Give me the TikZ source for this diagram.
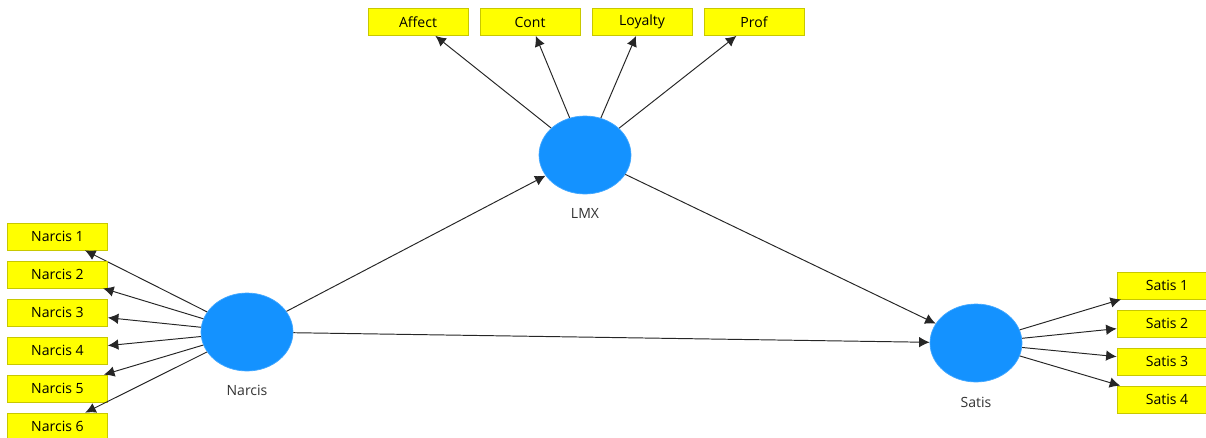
\documentclass[tikz,border=0pt]{standalone}
\usepackage{fontspec}
\setmainfont{Open Sans}
\usetikzlibrary{arrows.meta,shapes.geometric}
\definecolor{lvblue}{RGB}{20,146,255}
\definecolor{mvyellow}{RGB}{255,255,0}
\definecolor{mvborder}{RGB}{200,200,0}
\tikzset{
  latent/.style={ellipse,fill=lvblue,draw=lvblue!80!white,minimum width=1.84cm,minimum height=1.56cm,inner sep=0pt},
  manifest/.style={rectangle,fill=mvyellow,draw=mvborder,line width=0.4pt,minimum width=2cm,minimum height=0.54cm,inner sep=0pt,font=\fontsize{8}{9}\selectfont},
  lvlabel/.style={font=\fontsize{8}{9}\selectfont,text=black!80},
  path/.style={draw=black!85,line width=0.55pt,-{Latex[length=6pt,width=6pt]}}
}
\begin{document}
\begin{tikzpicture}[x=0.02cm,y=-0.02cm]
    \useasboundingbox (0,0) rectangle (1206,437);
    % Latent variables
    \node[latent] (lmx) at (585,155) {};
    \node[latent] (narcis) at (247,332) {};
    \node[latent] (satis) at (976,343) {};
    \node[lvlabel] at (585,213) {LMX};
    \node[lvlabel] at (247,390) {Narcis};
    \node[lvlabel] at (976,402) {Satis};
    % Indicators of LMX
    \foreach \name [count=\i] in {Affect,Cont,Loyalty,Prof}{
        \node[manifest] (lmx\i) at (418+112*\i-112,22) {\name};
        \draw[path] (lmx) -- (lmx\i);
    }
    % Indicators of Narcis
    \foreach \i in {1,...,6}{
        \node[manifest] (narcis\i) at (57.5,236.5+38*\i-38) {Narcis \i};
        \draw[path] (narcis) -- (narcis\i);
    }
    % Indicators of Satis
    \foreach \i in {1,...,4}{
        \node[manifest] (satis\i) at (1167,285.5+38*\i-38) {Satis \i};
        \draw[path] (satis) -- (satis\i);
    }
    % Structural paths
    \draw[path] (narcis) -- (lmx);
    \draw[path] (lmx) -- (satis);
    \draw[path] (narcis) -- (satis);
\end{tikzpicture}
\end{document}
